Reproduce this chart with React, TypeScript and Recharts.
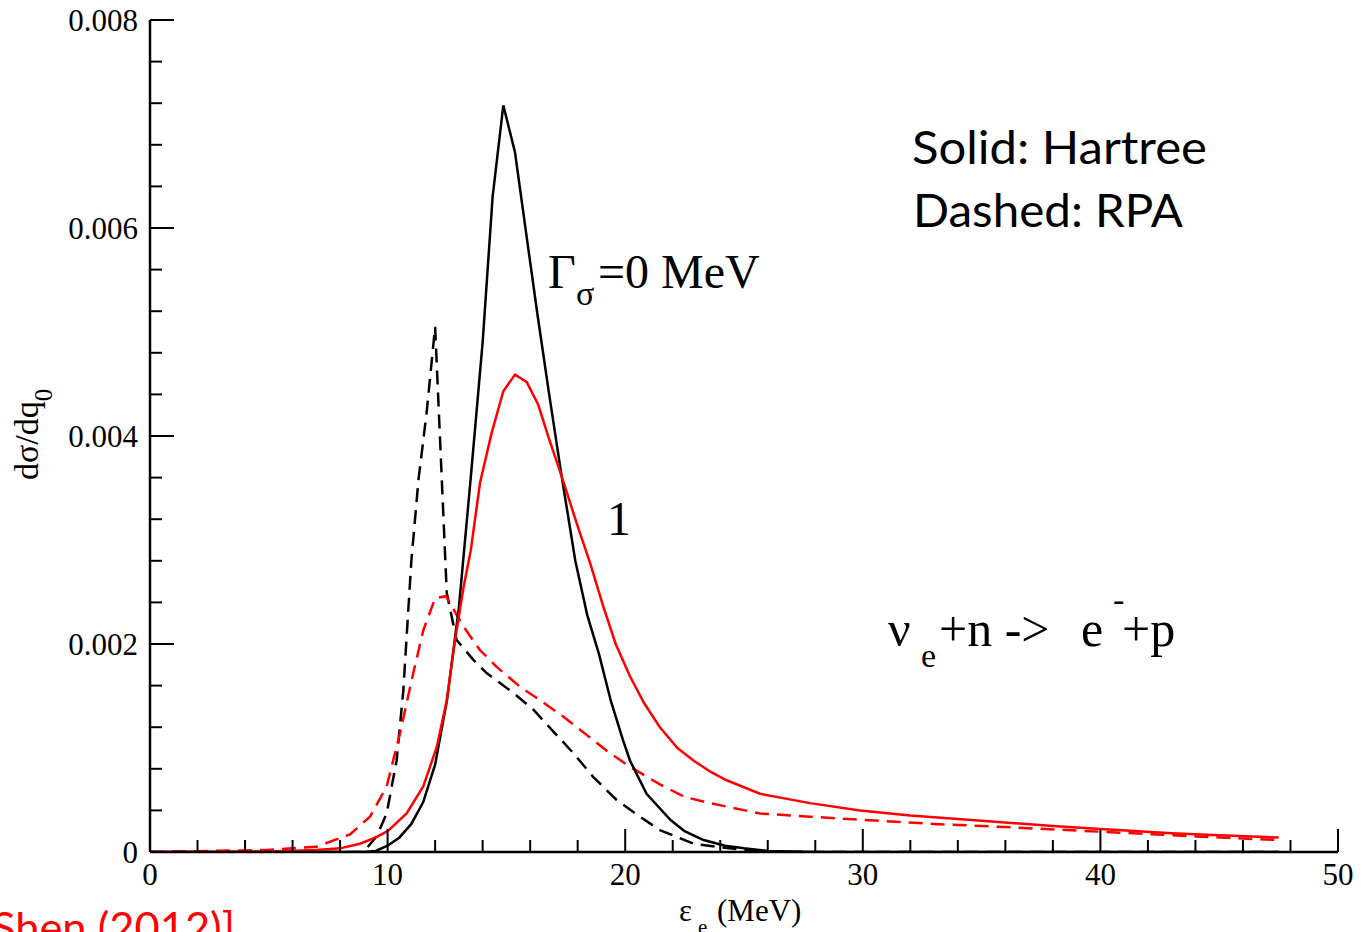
import React from 'react';
import { LineChart, Line, XAxis, YAxis } from 'recharts';

// energy grid ticks (MeV) and cross-section ticks
const xTicks = [0, 2, 4, 6, 8, 10, 12, 14, 16, 18, 20, 22, 24, 26, 28, 30, 32, 34, 36, 38, 40, 42, 44, 46, 48, 50];
const yTicks = [0, 0.0004, 0.0008, 0.0012, 0.0016, 0.002, 0.0024, 0.0028, 0.0032, 0.0036, 0.004, 0.0044, 0.0048, 0.0052, 0.0056, 0.006, 0.0064, 0.0068, 0.0072, 0.0076, 0.008];

// Hartree, Gamma = 0 MeV (black solid)
const hartreeG0: [number, number][] = [
  [0, 0], [9, 0], [9.5, 0.00001], [10, 0.00006], [10.5, 0.00014], [11, 0.00027], [11.5, 0.00048],
  [12, 0.00084], [12.5, 0.00146], [13, 0.00235], [13.5, 0.0036], [14, 0.0049], [14.42, 0.0063],
  [14.87, 0.00718], [15.36, 0.00673], [15.85, 0.00592], [16.3, 0.00518], [16.8, 0.0044],
  [17.3, 0.00365], [17.9, 0.0028], [18.4, 0.00228], [18.9, 0.0019], [19.4, 0.00145], [19.9, 0.00108],
  [20.2, 0.00088], [20.9, 0.00056], [21.9, 0.00031], [22.5, 0.0002], [23.3, 0.000115], [24.2, 0.00006],
  [25, 0.000035], [26, 0.00001], [28, 0], [47.5, 0],
];

// RPA, Gamma = 0 MeV (black dashed)
const rpaG0: [number, number][] = [
  [0, 0], [8.98, 0], [9.54, 0.00015], [9.96, 0.00037], [10.38, 0.00088], [10.66, 0.00155],
  [11.0, 0.0028], [11.3, 0.00358], [11.64, 0.00422], [12.0, 0.00505], [12.49, 0.00249],
  [12.9, 0.00204], [13.6, 0.00185], [14.17, 0.00172], [15.29, 0.00153], [16.13, 0.00137],
  [16.97, 0.00116], [17.82, 0.00095], [18.66, 0.00072], [19.64, 0.0005], [20.62, 0.00034],
  [21.46, 0.00021], [22.87, 0.00008], [23.85, 0.00005], [25, 0.00002], [26, 0.000005], [28, 0], [47.5, 0],
];

// Hartree, Gamma = 1 MeV (red solid)
const hartreeG1: [number, number][] = [
  [0, 0], [5, 0.000005], [7, 0.00002], [8, 0.000035], [8.84, 0.00008], [9.5, 0.00014], [10, 0.0002],
  [10.8, 0.00037], [11.5, 0.00063], [12.07, 0.00101], [12.49, 0.00146], [12.84, 0.00204], [13.2, 0.00255],
  [13.5, 0.0029], [13.89, 0.00355], [14.38, 0.00403], [14.87, 0.00443], [15.36, 0.00459], [15.85, 0.00452],
  [16.34, 0.0043], [16.77, 0.00399], [17.33, 0.00361], [17.96, 0.00316], [18.52, 0.00278], [19.08, 0.00236],
  [19.6, 0.002], [20.2, 0.00169], [20.8, 0.00143], [21.46, 0.0012], [22.2, 0.001], [22.87, 0.00088],
  [23.6, 0.00077], [24.27, 0.00069], [25.67, 0.00056], [27.78, 0.00047], [29.88, 0.0004], [32, 0.00035],
  [35, 0.0003], [38, 0.00025], [40, 0.00022], [43, 0.00018], [45, 0.00016], [47.5, 0.00014],
];

// RPA, Gamma = 1 MeV (red dashed)
const rpaG1: [number, number][] = [
  [0, 0], [4.9, 0.00002], [7, 0.00005], [8.42, 0.00017], [9.26, 0.00034], [9.96, 0.00063], [10.52, 0.00114],
  [11.01, 0.00165], [11.5, 0.00213], [12.0, 0.00244], [12.46, 0.00246], [12.63, 0.00239], [13.19, 0.00217],
  [13.89, 0.00194], [14.59, 0.00178], [15.57, 0.00159], [16.41, 0.00146], [17.4, 0.0013], [18.3, 0.00114],
  [19.3, 0.00096], [20.2, 0.00082], [21.46, 0.00065], [22.5, 0.00053], [23.57, 0.00047], [25.67, 0.00037],
  [27.78, 0.00034], [29.88, 0.00031], [33, 0.00027], [36, 0.00024], [40, 0.000195], [44, 0.00015], [47.5, 0.000115],
];

const toPts = (a: [number, number][]) => a.map(([x, y]) => ({ x, y }));

const SERIF = '"Liberation Serif", "DejaVu Serif", serif';
const SANS = 'Lato, "Open Sans", sans-serif';

const isMajorX = (v: number) => v % 10 === 0;
const isMajorY = (v: number) => Math.abs(v * 500 - Math.round(v * 500)) < 1e-6;

const BottomTick = ({ x, y, payload }: any) => {
  const major = isMajorX(payload.value);
  return (
    <g>
      <line x1={x} y1={y} x2={x} y2={y - (major ? 23 : 12)} stroke="#000" strokeWidth={2} />
      {major && (
        <text x={x} y={y + 33} textAnchor="middle" fontFamily={SERIF} fontSize={31} fill="#000">
          {payload.value}
        </text>
      )}
    </g>
  );
};

const TopTick = ({ x, y, payload }: any) => {
  const major = isMajorX(payload.value);
  return <line x1={x} y1={y} x2={x} y2={y + (major ? 23 : 12)} stroke="#000" strokeWidth={2} />;
};

const LeftTick = ({ x, y, payload }: any) => {
  const major = isMajorY(payload.value);
  const v = payload.value;
  return (
    <g>
      <line x1={x} y1={y} x2={x + (major ? 24 : 12)} y2={y} stroke="#000" strokeWidth={2} />
      {major && (
        <text x={x - 12} y={y + 11} textAnchor="end" fontFamily={SERIF} fontSize={31} fill="#000">
          {v === 0 ? '0' : v.toFixed(3)}
        </text>
      )}
    </g>
  );
};

const RightTick = ({ x, y, payload }: any) => {
  const major = isMajorY(payload.value);
  return <line x1={x} y1={y} x2={x - (major ? 24 : 12)} y2={y} stroke="#000" strokeWidth={2} />;
};

export default function App() {
  return (
    <div style={{ position: 'absolute', left: 0, top: 0, width: 1361, height: 932, overflow: 'hidden', background: '#fff' }}>
      <LineChart width={1361} height={932} margin={{ top: 20, right: 23, bottom: 0, left: 0 }}>
        <XAxis
          type="number" dataKey="x" domain={[0, 50]} ticks={xTicks} interval={0} allowDataOverflow
          height={80} tickSize={0} tickMargin={0} tickLine={false}
          axisLine={{ stroke: '#000', strokeWidth: 2.5 }} tick={<BottomTick />}
        />
        <XAxis
          xAxisId="top" orientation="top" type="number" dataKey="x" domain={[0, 50]} ticks={xTicks} interval={0}
          allowDataOverflow height={0} tickSize={0} tickMargin={0} tickLine={false}
          axisLine={{ stroke: '#000', strokeWidth: 2.5 }} tick={<TopTick />}
        />
        <YAxis
          type="number" domain={[0, 0.008]} ticks={yTicks} interval={0} allowDataOverflow
          width={150} tickSize={0} tickMargin={0} tickLine={false}
          axisLine={{ stroke: '#000', strokeWidth: 2.5 }} tick={<LeftTick />}
        />
        <YAxis
          yAxisId="right" orientation="right" type="number" domain={[0, 0.008]} ticks={yTicks} interval={0}
          allowDataOverflow width={0} tickSize={0} tickMargin={0} tickLine={false}
          axisLine={{ stroke: '#000', strokeWidth: 2.5 }} tick={<RightTick />}
        />
        <Line data={toPts(rpaG0)} dataKey="y" type="linear" stroke="#000" strokeWidth={2.5}
          strokeDasharray="14 8" dot={false} isAnimationActive={false} />
        <Line data={toPts(rpaG1)} dataKey="y" type="linear" stroke="#ff0000" strokeWidth={2.5}
          strokeDasharray="14 8" dot={false} isAnimationActive={false} />
        <Line data={toPts(hartreeG0)} dataKey="y" type="linear" stroke="#000" strokeWidth={2.5}
          dot={false} isAnimationActive={false} />
        <Line data={toPts(hartreeG1)} dataKey="y" type="linear" stroke="#ff0000" strokeWidth={2.5}
          dot={false} isAnimationActive={false} />
      </LineChart>

      <svg width={1361} height={932} style={{ position: 'absolute', left: 0, top: 0, pointerEvents: 'none' }}>
        {/* axis titles */}
        <text x={679} y={921} fontFamily={SERIF} fontSize={31}>ε</text>
        <text x={698} y={934} fontFamily={SERIF} fontSize={21}>e</text>
        <text x={717} y={921} fontFamily={SERIF} fontSize={31}>(MeV)</text>
        <text transform="translate(38,480) rotate(-90)" fontFamily={SERIF} fontSize={34}>
          dσ/dq<tspan dy={14} fontSize={25}>0</tspan>
        </text>

        {/* legend text */}
        <text x={912} y={164} fontFamily={SANS} fontSize={46} textLength={295} lengthAdjust="spacingAndGlyphs">Solid: Hartree</text>
        <text x={913} y={227} fontFamily={SANS} fontSize={46} textLength={270} lengthAdjust="spacingAndGlyphs">Dashed: RPA</text>

        {/* curve labels */}
        <text x={548} y={288} fontFamily={SERIF} fontSize={48}>Γ</text>
        <text x={576} y={305} fontFamily={SERIF} fontSize={34}>σ</text>
        <text x={598} y={288} fontFamily={SERIF} fontSize={48}>=0 MeV</text>
        <text x={607} y={535} fontFamily={SERIF} fontSize={48}>1</text>

        {/* reaction */}
        <text x={888} y={646} fontFamily={SERIF} fontSize={50}>ν</text>
        <text x={921} y={667} fontFamily={SERIF} fontSize={34}>e</text>
        <text x={939} y={646} fontFamily={SERIF} fontSize={50}>+n -&gt;</text>
        <text x={1081} y={646} fontFamily={SERIF} fontSize={50}>e</text>
        <text x={1113} y={611} fontFamily={SERIF} fontSize={34}>-</text>
        <text x={1122} y={646} fontFamily={SERIF} fontSize={50}>+p</text>

        {/* slide reference, cut off at the bottom */}
        <text x={-8} y={943} fontFamily={SANS} fontSize={42} fill="#ff0000" textLength={243} lengthAdjust="spacingAndGlyphs">Shen (2012)]</text>
      </svg>
    </div>
  );
}
